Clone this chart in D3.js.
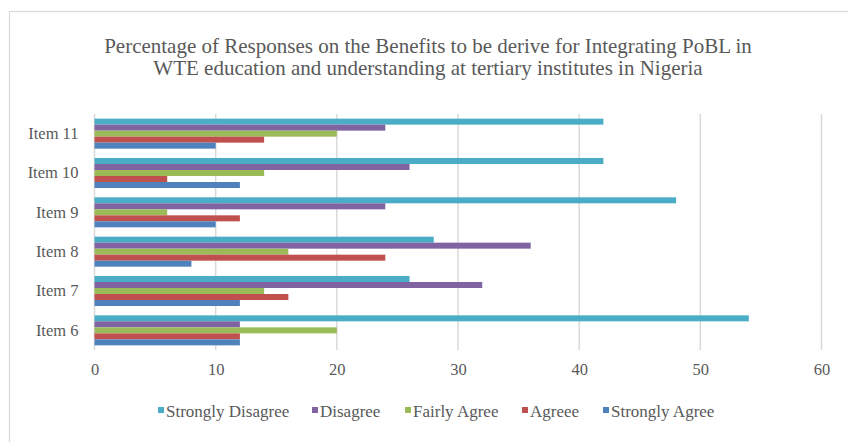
<!DOCTYPE html>
<html>
<head>
<meta charset="utf-8">
<style>
  body { margin: 0; background: #fff; }
  .title-text { font-family: "Liberation Serif", serif; font-size: 21px; fill: #595959; }
  .tick text { font-family: "Liberation Serif", serif; font-size: 16.5px; fill: #595959; }
  .leg-text { font-family: "Liberation Serif", serif; font-size: 17px; fill: #595959; }
</style>
</head>
<body>
<div id="chart"></div>
<script src="https://d3js.org/d3.v7.min.js"></script>
<script>
// categories, top to bottom
var items = ["Item 11", "Item 10", "Item 9", "Item 8", "Item 7", "Item 6"];
// series, in the order they sit inside each group (top to bottom)
var seriesNames = ["Strongly Disagree", "Disagree", "Fairly Agree", "Agreee", "Strongly Agree"];
var seriesColors = ["#4BACC6", "#8064A2", "#9BBB59", "#C0504D", "#4F81BD"];
// values per series, same order as items
var stronglyDisagree = [42, 42, 48, 28, 26, 54];
var disagree         = [24, 26, 24, 36, 32, 12];
var fairlyAgree      = [20, 14, 6, 16, 14, 20];
var agreee           = [14, 6, 12, 24, 16, 12];
var stronglyAgree    = [10, 12, 10, 8, 12, 12];
var xTicks = [0, 10, 20, 30, 40, 50, 60];
var titleLines = [
  "Percentage of Responses on the Benefits to be derive for Integrating PoBL in",
  "WTE education and understanding at tertiary institutes in Nigeria"
];

var seriesValues = [stronglyDisagree, disagree, fairlyAgree, agreee, stronglyAgree];

var width = 848, height = 442;
var margin = {left: 94.5, right: 26.5, top: 114, bottom: 92};

var svg = d3.select("#chart").append("svg")
  .attr("width", width)
  .attr("height", height);

// chart border
svg.append("rect")
  .attr("x", 9.5).attr("y", 11.5)
  .attr("width", width).attr("height", height)
  .attr("fill", "none")
  .attr("stroke", "#d9d9d9")
  .attr("stroke-width", 1.2);

// title
svg.append("text")
  .attr("class", "title-text")
  .attr("text-anchor", "middle")
  .selectAll("tspan")
  .data(titleLines)
  .enter().append("tspan")
  .attr("x", 428)
  .attr("y", function(d, i) { return 53 + i * 22; })
  .text(function(d) { return d; });

var x = d3.scaleLinear()
  .domain([0, 60])
  .range([margin.left, width - margin.right]);

var y = d3.scaleBand()
  .domain(items)
  .range([margin.top, height - margin.bottom])
  .paddingInner(0.237)
  .paddingOuter(0.118);

var ySub = d3.scaleBand()
  .domain(seriesNames)
  .range([0, y.bandwidth()]);

// gridlines
svg.append("g")
  .selectAll("line")
  .data(xTicks)
  .enter().append("line")
  .attr("x1", function(d) { return x(d); })
  .attr("x2", function(d) { return x(d); })
  .attr("y1", margin.top)
  .attr("y2", height - margin.bottom)
  .attr("stroke", "#d9d9d9")
  .attr("stroke-width", 1.5);

// x axis labels
var xAxis = svg.append("g")
  .attr("transform", "translate(0," + (height - margin.bottom) + ")")
  .call(d3.axisBottom(x).tickValues(xTicks).tickSize(0).tickPadding(13));
xAxis.select(".domain").remove();

// y axis labels
var yAxis = svg.append("g")
  .attr("transform", "translate(" + (margin.left - 16) + ",0)")
  .call(d3.axisLeft(y).tickSize(0).tickPadding(0));
yAxis.select(".domain").remove();

// bars
var groups = svg.append("g")
  .selectAll("g")
  .data(items)
  .enter().append("g")
  .attr("transform", function(d) { return "translate(0," + y(d) + ")"; });

groups.selectAll("rect")
  .data(function(d, i) {
    return seriesNames.map(function(s, j) {
      return {series: s, value: seriesValues[j][i], color: seriesColors[j]};
    });
  })
  .enter().append("rect")
  .attr("x", x(0))
  .attr("y", function(d) { return ySub(d.series); })
  .attr("width", function(d) { return x(d.value) - x(0); })
  .attr("height", ySub.bandwidth())
  .attr("fill", function(d) { return d.color; });

// legend
var legendX = [158, 312, 405, 522, 603];
var legend = svg.append("g")
  .selectAll("g")
  .data(seriesNames)
  .enter().append("g")
  .attr("transform", function(d, i) { return "translate(" + legendX[i] + ",412)"; });

legend.append("rect")
  .attr("x", 0).attr("y", -5)
  .attr("width", 6).attr("height", 6)
  .attr("fill", function(d, i) { return seriesColors[i]; });

legend.append("text")
  .attr("class", "leg-text")
  .attr("x", 8)
  .attr("y", 5)
  .text(function(d) { return d; });
</script>
</body>
</html>
